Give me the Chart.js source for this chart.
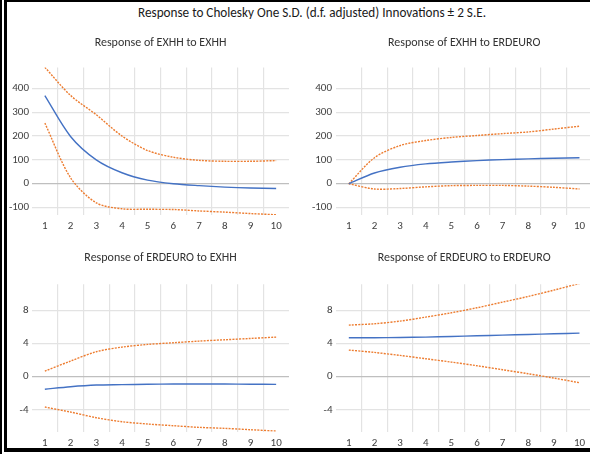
<!DOCTYPE html>
<html>
<head>
<meta charset="utf-8">
<script src="https://cdn.jsdelivr.net/npm/chart.js@4/dist/chart.umd.min.js"></script>
<style>
html,body{margin:0;padding:0;background:#fff;overflow:hidden;width:590px;height:454px;}
#stage{position:relative;width:590px;height:454px;overflow:hidden;background:#fff;}
.cv{position:absolute;display:block;}
#title{position:absolute;left:112px;width:400px;top:0;height:24px;line-height:25px;text-align:center;
  font-family:Carlito,'Liberation Sans',sans-serif;font-size:13.2px;color:#1a1a1a;white-space:nowrap;}
.bar{position:absolute;background:#000;}
</style>
</head>
<body>
<div id="stage">
  <div id="title">Response to Cholesky One S.D. (d.f. adjusted) Innovations ± 2 S.E.</div>
  <canvas id="c1" class="cv" width="295" height="205" style="left:0;top:30px"></canvas>
  <canvas id="c2" class="cv" width="298" height="205" style="left:300px;top:30px"></canvas>
  <canvas id="c3" class="cv" width="295" height="207" style="left:0;top:245px"></canvas>
  <canvas id="c4" class="cv" width="298" height="207" style="left:300px;top:245px"></canvas>
  <div class="bar" style="left:0;top:0;width:2px;height:454px"></div>
  <div class="bar" style="left:4px;top:0;width:3px;height:452px"></div>
  <div class="bar" style="left:4px;top:0;width:586px;height:2px"></div>
  <div class="bar" style="left:4px;top:448px;width:586px;height:4px"></div>
</div>
<script>
// ---- data ----
const steps = ['1','2','3','4','5','6','7','8','9','10'];

const exhhToExhh      = [369, 198, 100, 46, 15, 0, -8, -14, -18, -20];
const exhhToExhhUpper = [488, 370, 289, 200, 139, 111, 98, 94, 94, 97];
const exhhToExhhLower = [254, 25, -80, -105, -107, -108, -114, -119, -125, -130];

const exhhToErdeuro      = [0, 45, 69, 83, 91, 97, 101, 104, 107, 109];
const exhhToErdeuroUpper = [0, 109, 160, 181, 194, 202, 210, 217, 229, 241];
const exhhToErdeuroLower = [0, -22, -20, -13, -8, -7, -7, -10, -15, -22];

const erdeuroToExhh      = [-1.5, -1.2, -1.0, -0.95, -0.9, -0.88, -0.88, -0.88, -0.9, -0.92];
const erdeuroToExhhUpper = [0.68, 1.88, 3.0, 3.56, 3.88, 4.08, 4.28, 4.44, 4.6, 4.76];
const erdeuroToExhhLower = [-3.64, -4.24, -4.92, -5.4, -5.68, -5.88, -6.08, -6.2, -6.36, -6.52];

const erdeuroToErdeuro      = [4.68, 4.68, 4.72, 4.76, 4.84, 4.92, 5.0, 5.08, 5.16, 5.24];
const erdeuroToErdeuroUpper = [6.2, 6.36, 6.68, 7.16, 7.68, 8.28, 8.96, 9.64, 10.4, 11.2];
const erdeuroToErdeuroLower = [3.2, 2.92, 2.56, 2.16, 1.76, 1.32, 0.84, 0.36, -0.16, -0.72];

const yTicksExhh = [-100, 0, 100, 200, 300, 400];
const yTicksErdeuro = [-4, 0, 4, 8];

const panelTitles = [
  'Response of EXHH to EXHH',
  'Response of EXHH to ERDEURO',
  'Response of ERDEURO to EXHH',
  'Response of ERDEURO to ERDEURO'
];

// ---- styling ----
const FONT = "Carlito,'Liberation Sans',sans-serif";
const BLUE = '#4472C4';
const ORANGE = '#ED7D31';
const GRID = '#e3e3e3';
const ZERO = '#bfbfbf';
const TICKCOL = '#404040';

function makePanel(id, title, resp, upper, lower, yTicks, yMin, yMax, o) {
  const ctx = document.getElementById(id);
  return new Chart(ctx, {
    type: 'line',
    data: {
      labels: steps,
      datasets: [
        { data: resp, borderColor: BLUE, borderWidth: 1.4, pointRadius: 0, tension: 0.3, fill: false },
        { data: upper, borderColor: ORANGE, borderWidth: 1.4, borderDash: [2, 1.2], pointRadius: 0, tension: 0.3, fill: false },
        { data: lower, borderColor: ORANGE, borderWidth: 1.4, borderDash: [2, 1.2], pointRadius: 0, tension: 0.3, fill: false }
      ]
    },
    options: {
      responsive: false,
      animation: false,
      devicePixelRatio: 1,
      layout: { padding: { top: 0, left: 0, right: o.padRight, bottom: 0 } },
      plugins: {
        legend: { display: false },
        tooltip: { enabled: false },
        title: {
          display: true, text: title, fullSize: false, color: '#333333',
          font: { family: FONT, size: 12, weight: 'normal', lineHeight: 1.2 },
          padding: { top: 6, bottom: o.titleBottom }
        }
      },
      scales: {
        x: {
          type: 'category',
          offset: true,
          border: { display: false },
          grid: {
            offset: true, drawTicks: false, lineWidth: 1.2,
            color: (c) => (c.type === 'tick' && c.index > 0) ? GRID : 'rgba(0,0,0,0)'
          },
          ticks: { color: TICKCOL, font: { family: FONT, size: 11 }, padding: 5, maxRotation: 0, autoSkip: false },
          afterFit: (s) => { s.height = o.xHeight; }
        },
        y: {
          min: yMin, max: yMax,
          border: { display: false },
          grid: {
            drawTicks: false, lineWidth: 1.2,
            color: (c) => (c.tick && c.tick.value === 0) ? ZERO : GRID
          },
          ticks: { color: TICKCOL, font: { family: FONT, size: 11 }, padding: o.yPad },
          afterBuildTicks: (s) => { s.ticks = yTicks.map(v => ({ value: v })); },
          afterFit: (s) => { s.width = o.yWidth; }
        }
      }
    }
  });
}

makePanel('c1', panelTitles[0], exhhToExhh, exhhToExhhUpper, exhhToExhhLower, yTicksExhh, -131, 487,
  { padRight: 6, titleBottom: 17.1, xHeight: 20, yWidth: 32, yPad: 3 });
makePanel('c2', panelTitles[1], exhhToErdeuro, exhhToErdeuroUpper, exhhToErdeuroLower, yTicksExhh, -131, 487,
  { padRight: 5.7, titleBottom: 17.1, xHeight: 20, yWidth: 36, yPad: 4 });
makePanel('c3', panelTitles[2], erdeuroToExhh, erdeuroToExhhUpper, erdeuroToExhhLower, yTicksErdeuro, -6.6, 11.1,
  { padRight: 6, titleBottom: 18.9, xHeight: 20.3, yWidth: 32, yPad: 3.5 });
makePanel('c4', panelTitles[3], erdeuroToErdeuro, erdeuroToErdeuroUpper, erdeuroToErdeuroLower, yTicksErdeuro, -6.6, 11.1,
  { padRight: 5.7, titleBottom: 18.9, xHeight: 20.3, yWidth: 36, yPad: 3.5 });
</script>
</body>
</html>
